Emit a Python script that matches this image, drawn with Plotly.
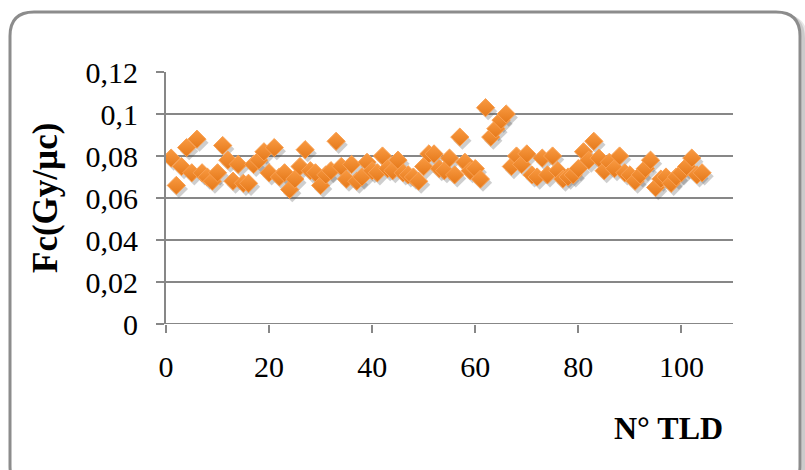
import plotly.graph_objects as go

# TLD calibration factors
tld_number = list(range(1, 105))
fc_values = [
    0.079, 0.066, 0.075, 0.084, 0.072, 0.088, 0.072, 0.070, 0.068, 0.072,
    0.085, 0.078, 0.068, 0.076, 0.067, 0.067, 0.076, 0.078, 0.082, 0.072,
    0.084, 0.070, 0.072, 0.064, 0.069, 0.075, 0.083, 0.073, 0.072, 0.066,
    0.071, 0.073, 0.087, 0.075, 0.069, 0.076, 0.068, 0.070, 0.077, 0.073,
    0.072, 0.080, 0.074, 0.073, 0.078, 0.072, 0.071, 0.070, 0.068, 0.075,
    0.081, 0.081, 0.074, 0.073, 0.079, 0.071, 0.089, 0.077, 0.073, 0.074,
    0.069, 0.103, 0.089, 0.093, 0.097, 0.100, 0.075, 0.080, 0.076, 0.081,
    0.071, 0.070, 0.079, 0.071, 0.080, 0.073, 0.069, 0.070, 0.071, 0.074,
    0.082, 0.078, 0.087, 0.079, 0.073, 0.077, 0.074, 0.080, 0.072, 0.071,
    0.068, 0.071, 0.074, 0.078, 0.065, 0.069, 0.070, 0.067, 0.070, 0.072,
    0.075, 0.079, 0.071, 0.072,
]

y_ticks = [0, 0.02, 0.04, 0.06, 0.08, 0.10, 0.12]
y_tick_labels = ["0", "0,02", "0,04", "0,06", "0,08", "0,1", "0,12"]
x_ticks = [0, 20, 40, 60, 80, 100]
x_tick_labels = ["0", "20", "40", "60", "80", "100"]

W, H = 805, 470
L, R, T, B = 166, 72, 72, 146
PW, PH = W - L - R, H - T - B

def px(x):
    return (x - L) / PW

def py(y):
    return (H - B - y) / PH

def rounded_rect(x0, y0, x1, y1, r):
    return (
        f"M {px(x0 + r)},{py(y0)} L {px(x1 - r)},{py(y0)} "
        f"Q {px(x1)},{py(y0)} {px(x1)},{py(y0 + r)} "
        f"L {px(x1)},{py(y1 - r)} Q {px(x1)},{py(y1)} {px(x1 - r)},{py(y1)} "
        f"L {px(x0 + r)},{py(y1)} Q {px(x0)},{py(y1)} {px(x0)},{py(y1 - r)} "
        f"L {px(x0)},{py(y0 + r)} Q {px(x0)},{py(y0)} {px(x0 + r)},{py(y0)} Z"
    )

serif = "Liberation Serif, Times New Roman, serif"
grid = "#878787"

fig = go.Figure()

# soft drop shadow under the markers
fig.add_trace(go.Scatter(
    x=[v + 0.5 for v in tld_number],
    y=[v - 0.0017 for v in fc_values],
    mode="markers",
    marker=dict(symbol="diamond", size=14, color="rgba(80,80,80,0.28)",
                line=dict(width=0)),
    hoverinfo="skip", showlegend=False,
))

fig.add_trace(go.Scatter(
    x=tld_number, y=fc_values, mode="markers",
    marker=dict(symbol="diamond", size=14, color="#F99A42",
                gradient=dict(type="vertical", color="#E5791A"),
                line=dict(width=1, color="#F9A052")),
    showlegend=False,
))

shapes = []
# outer frame with shadow
for off, col, w in [(5, "rgba(120,120,120,0.18)", 6), (3, "rgba(120,120,120,0.25)", 4)]:
    shapes.append(dict(type="path", xref="paper", yref="paper", layer="below",
                       path=rounded_rect(10 + off, 12 + off, 800 + off, 490 + off, 24),
                       line=dict(color=col, width=w)))
shapes.append(dict(type="path", xref="paper", yref="paper", layer="below",
                   path=rounded_rect(10, 12, 800, 490, 24),
                   fillcolor="white", line=dict(color="#8C8C8C", width=3)))

fig.update_layout(
    width=W, height=H,
    margin=dict(l=L, r=R, t=T, b=B),
    paper_bgcolor="white", plot_bgcolor="rgba(0,0,0,0)",
    separators=", ",
    shapes=shapes,
    font=dict(family=serif, color="black", size=30),
    xaxis=dict(range=[0, 110], tickvals=x_ticks, ticktext=x_tick_labels,
               showgrid=False, zeroline=False, showline=False,
               ticks="outside", ticklen=8, tickwidth=2, tickcolor=grid,
               ticklabelstandoff=8, tickfont=dict(size=30, family=serif)),
    yaxis=dict(range=[0, 0.12], tickvals=y_ticks, ticktext=y_tick_labels,
               showgrid=True, gridcolor=grid, gridwidth=2, zeroline=False,
               showline=True, linecolor=grid, linewidth=2,
               ticks="outside", ticklen=8, tickwidth=2, tickcolor=grid,
               ticklabelstandoff=12, tickfont=dict(size=30, family=serif)),
    annotations=[
        dict(text="<b>Fc(Gy/µc)</b>", xref="paper", yref="paper",
             x=px(45), y=py(198), xanchor="center", yanchor="middle",
             textangle=-90, showarrow=False,
             font=dict(size=35, family=serif)),
        dict(text="<b>N° TLD</b>", xref="paper", yref="paper",
             x=px(725), y=py(428), xanchor="right", yanchor="middle",
             showarrow=False, font=dict(size=32, family=serif)),
    ],
)

fig.add_shape(type="line", xref="x", yref="y", x0=0, x1=110, y0=0, y1=0,
              line=dict(color=grid, width=2))

fig.write_html("out.html")
